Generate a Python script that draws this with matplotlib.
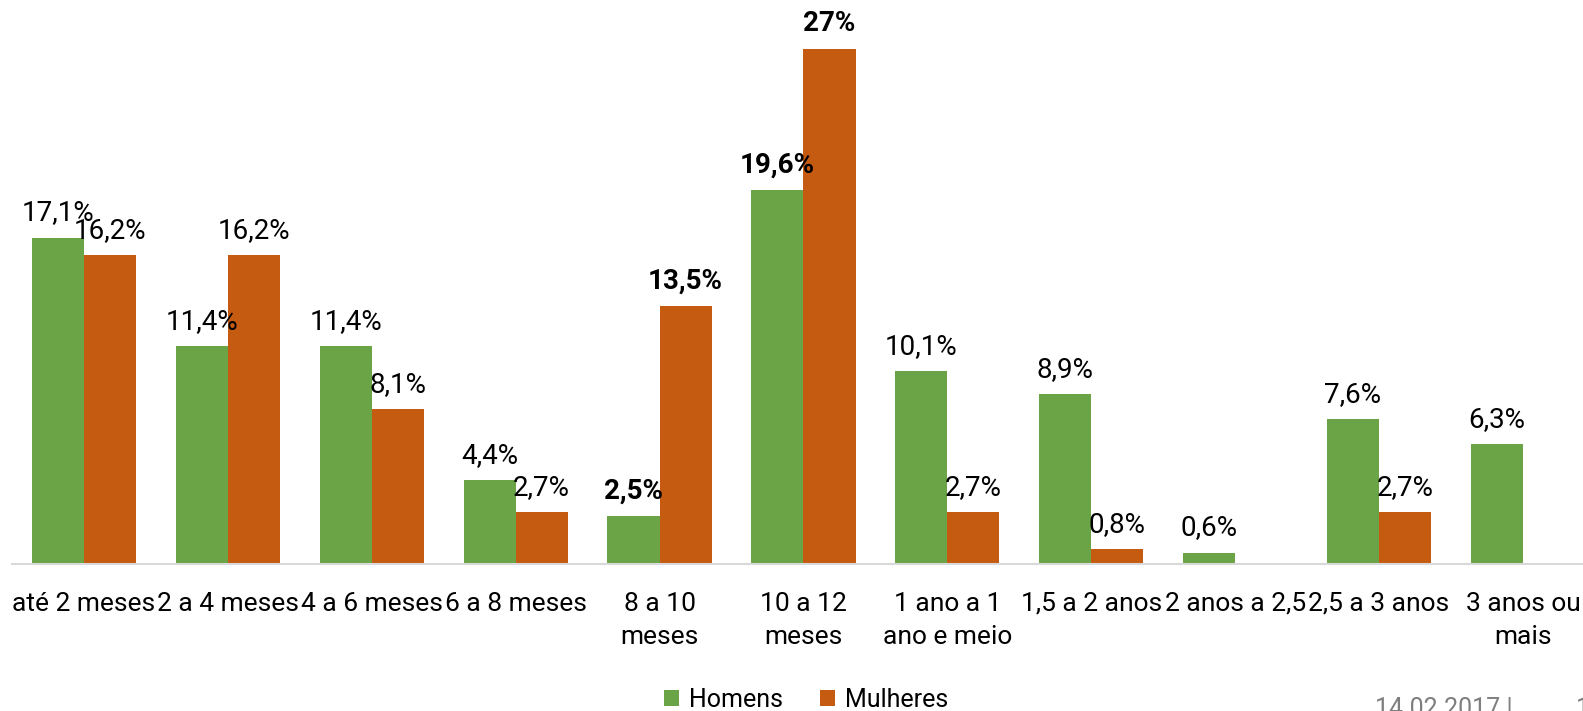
import matplotlib.pyplot as plt

plt.rcParams['font.family'] = ['Roboto', 'DejaVu Sans']

categorias = ['até 2 meses', '2 a 4 meses', '4 a 6 meses', '6 a 8 meses',
              '8 a 10\nmeses', '10 a 12\nmeses', '1 ano a 1\nano e meio',
              '1,5 a 2 anos', '2 anos a 2,5', '2,5 a 3 anos', '3 anos ou\nmais']
homens = [17.1, 11.4, 11.4, 4.4, 2.5, 19.6, 10.1, 8.9, 0.6, 7.6, 6.3]
mulheres = [16.2, 16.2, 8.1, 2.7, 13.5, 27, 2.7, 0.8, 0, 2.7, 0]
negrito_h = [4, 5]
negrito_m = [4, 5]

verde = '#6aa446'
laranja = '#c55a11'

fig = plt.figure(figsize=(15.83, 7.11), dpi=100)
ax = fig.add_axes([12/1583, 147/711, 1571/1583, 515.5/711])

x = list(range(len(categorias)))
w = 0.362
b1 = ax.bar([i - w/2 for i in x], homens, w, color=verde, label='Homens')
b2 = ax.bar([i + w/2 for i in x], mulheres, w, color=laranja, label='Mulheres')


def rotulo(v):
    return '{:g}'.format(v).replace('.', ',') + '%'


for barras, vals, neg in [(b1, homens, negrito_h), (b2, mulheres, negrito_m)]:
    for i, (r, v) in enumerate(zip(barras, vals)):
        if v == 0:
            continue
        ax.annotate(rotulo(v), (r.get_x() + r.get_width()/2, v),
                    xytext=(0, 8), textcoords='offset points',
                    ha='center', va='bottom', fontsize=20,
                    fontweight='bold' if i in neg else 'normal',
                    annotation_clip=False)

ax.set_xlim(-0.5, -0.5 + 1571/143.9)
ax.set_ylim(0, 27)
ax.set_xticks(x)
ax.set_xticklabels(categorias, fontsize=19, linespacing=1.5)
ax.tick_params(axis='x', length=0, pad=20)
ax.set_yticks([])
for s in ['top', 'left', 'right']:
    ax.spines[s].set_visible(False)
ax.spines['bottom'].set_color('#d9d9d9')
ax.spines['bottom'].set_linewidth(1.5)

fig.legend(handles=[b1, b2], loc='center', bbox_to_anchor=(806/1583, 1 - 700/711),
           ncol=2, frameon=False, fontsize=18, handlelength=0.6, handleheight=0.6,
           handletextpad=0.4, columnspacing=1.5)

fig.text(1375/1583, 1 - 697/711, '14.02.2017 |', fontsize=18, color='#7f7f7f',
         ha='left', va='top')
fig.text(1576/1583, 1 - 697/711, '1', fontsize=18, color='#7f7f7f',
         ha='left', va='top')

fig.savefig('out.png', dpi=100)
